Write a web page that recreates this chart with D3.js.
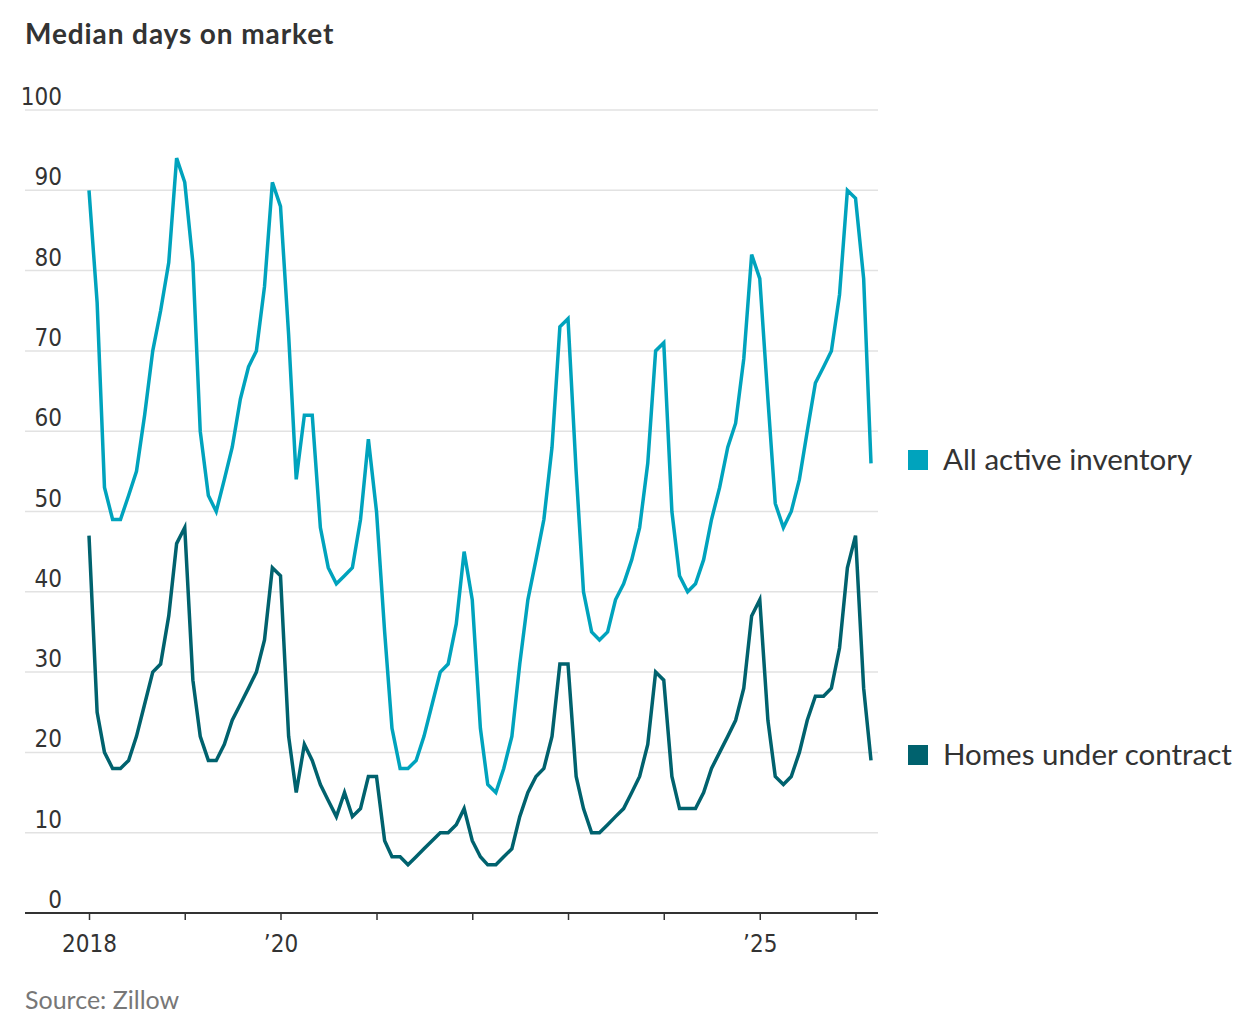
<!DOCTYPE html>
<html>
<head>
<meta charset="utf-8">
<script src="https://cdn.jsdelivr.net/npm/d3@7"></script>
<style>
  body { margin: 0; background: #fff; }
  svg text { fill: #333; }
</style>
</head>
<body>
<svg id="chart" width="1250" height="1020"></svg>
<script>
// monthly medians, Jan 2018 .. Mar 2026
const activeInventory = [
    90, 76, 53, 49, 49, 52, 55, 62, 70, 75, 81, 94,
    91, 81, 60, 52, 50, 54, 58, 64, 68, 70, 78, 91,
    88, 72, 54, 62, 62, 48, 43, 41, 42, 43, 49, 59,
    50, 35, 23, 18, 18, 19, 22, 26, 30, 31, 36, 45,
    39, 23, 16, 15, 18, 22, 31, 39, 44, 49, 58, 73,
    74, 55, 40, 35, 34, 35, 39, 41, 44, 48, 56, 70,
    71, 50, 42, 40, 41, 44, 49, 53, 58, 61, 69, 82,
    79, 64, 51, 48, 50, 54, 60, 66, 68, 70, 77, 90,
    89, 79, 56
];
const underContract = [
    47, 25, 20, 18, 18, 19, 22, 26, 30, 31, 37, 46,
    48, 29, 22, 19, 19, 21, 24, 26, 28, 30, 34, 43,
    42, 22, 15, 21, 19, 16, 14, 12, 15, 12, 13, 17,
    17, 9, 7, 7, 6, 7, 8, 9, 10, 10, 11, 13,
    9, 7, 6, 6, 7, 8, 12, 15, 17, 18, 22, 31,
    31, 17, 13, 10, 10, 11, 12, 13, 15, 17, 21, 30,
    29, 17, 13, 13, 13, 15, 18, 20, 22, 24, 28, 37,
    39, 24, 17, 16, 17, 20, 24, 27, 27, 28, 33, 43,
    47, 28, 19
];
const months = activeInventory.map((d, i) => new Date(2018, i, 1));
const yTicks = [0, 10, 20, 30, 40, 50, 60, 70, 80, 90, 100];
const xTickYears = [2018, 2019, 2020, 2021, 2022, 2023, 2024, 2025, 2026];
const xTickLabels = {2018: "2018", 2020: "\u201920", 2025: "\u201925"};
const seriesNames = ["All active inventory", "Homes under contract"];
const seriesColors = ["#00a3bd", "#00626e"];

const svg = d3.select("#chart");
const numFont = "'Liberation Sans Narrow', 'DejaVu Sans Condensed', Roboto, sans-serif";
const textFont = "Lato, 'Noto Sans', sans-serif";

let left = 25, right = 878;

let xScale = d3.scaleTime()
    .domain([months[0], months[months.length - 1]])
    .range([89, 871]);

let yScale = d3.scaleLinear()
    .domain([0, 100])
    .range([913, 110]);

// title
svg.append("text")
    .attr("x", 25)
    .attr("y", 44)
    .style("font-family", textFont)
    .style("font-weight", "bold")
    .style("font-size", "28px")
    .style("letter-spacing", "0.9px")
    .text("Median days on market");

// gridlines + y labels
let grid = svg.append("g");
grid.selectAll("line")
    .data(yTicks.filter(d => d > 0))
    .enter()
    .append("line")
    .attr("x1", left)
    .attr("x2", right)
    .attr("y1", d => yScale(d))
    .attr("y2", d => yScale(d))
    .attr("stroke", "#e2e2e2")
    .attr("stroke-width", 1.5);

grid.selectAll("text")
    .data(yTicks)
    .enter()
    .append("text")
    .attr("x", 62)
    .attr("y", d => yScale(d) - 5)
    .attr("text-anchor", "end")
    .style("font-family", numFont)
    .style("font-size", "24px")
    .text(d => d);

// x axis
let xAxis = d3.axisBottom(xScale)
    .tickValues(xTickYears.map(y => new Date(y, 0, 1)))
    .tickSize(7)
    .tickFormat(d => xTickLabels[d.getFullYear()] || "");

let xg = svg.append("g")
    .attr("transform", `translate(0, ${yScale(0)})`)
    .call(xAxis);
xg.select(".domain").remove();
xg.selectAll(".tick line").attr("stroke", "#333").attr("stroke-width", 1.5);
xg.selectAll(".tick text")
    .attr("y", 22)
    .attr("dy", "0.71em")
    .style("font-family", numFont)
    .style("font-size", "24px")
    .style("fill", "#333");

svg.append("line")
    .attr("x1", left)
    .attr("x2", right)
    .attr("y1", yScale(0))
    .attr("y2", yScale(0))
    .attr("stroke", "#333")
    .attr("stroke-width", 2);

// lines
let line = d3.line()
    .x((d, i) => xScale(months[i]))
    .y(d => yScale(d));

[activeInventory, underContract].forEach((series, k) => {
    svg.append("path")
        .datum(series)
        .attr("d", line)
        .attr("fill", "none")
        .attr("stroke", seriesColors[k])
        .attr("stroke-width", 3.5)
        .attr("stroke-linejoin", "miter");
});

// legend, next to the series
let legendY = [460, 755];
let legend = svg.selectAll(".legend")
    .data(seriesNames)
    .enter()
    .append("g")
    .attr("class", "legend")
    .attr("transform", (d, i) => `translate(908, ${legendY[i]})`);

legend.append("rect")
    .attr("x", 0)
    .attr("y", -10)
    .attr("width", 20)
    .attr("height", 20)
    .attr("fill", (d, i) => seriesColors[i]);

legend.append("text")
    .attr("x", 35)
    .attr("y", 10)
    .style("font-family", textFont)
    .style("font-size", "29.5px")
    .text(d => d);

// source
svg.append("text")
    .attr("x", 25)
    .attr("y", 1009)
    .style("font-family", textFont)
    .style("font-size", "25px")
    .style("fill", "#777")
    .text("Source: Zillow");
</script>
</body>
</html>
